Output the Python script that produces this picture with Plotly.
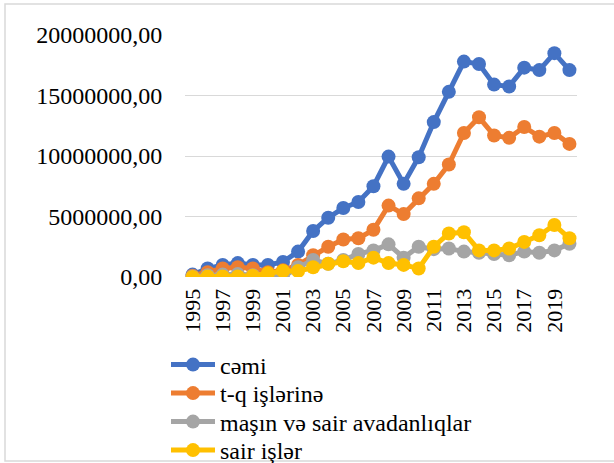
import plotly.graph_objects as go

years = list(range(1995, 2021))
cemi = [0.2, 0.7, 1.0, 1.15, 1.0, 1.0, 1.25, 2.1, 3.8, 4.9, 5.7, 6.2, 7.5, 9.95, 7.7, 9.9,
        12.8, 15.3, 17.8, 17.6, 15.9, 15.75, 17.3, 17.1, 18.5, 17.1]
tq = [0.1, 0.4, 0.7, 0.8, 0.7, 0.4, 0.55, 1.0, 1.8, 2.5, 3.1, 3.2, 3.9, 5.9, 5.2, 6.5,
      7.7, 9.3, 11.9, 13.2, 11.7, 11.5, 12.4, 11.6, 11.9, 11.0]
masin = [0.05, 0.15, 0.2, 0.25, 0.15, 0.1, 0.0, 0.8, 1.4, 1.1, 1.4, 1.9, 2.2, 2.7, 1.6, 2.5,
         2.3, 2.35, 2.1, 2.0, 1.9, 1.8, 2.1, 2.0, 2.2, 2.75]
sair = [0.0, 0.05, 0.05, 0.05, 0.1, 0.3, 0.5, 0.5, 0.8, 1.1, 1.3, 1.15, 1.6, 1.15, 1.0, 0.7,
        2.5, 3.6, 3.7, 2.2, 2.2, 2.35, 2.9, 3.45, 4.3, 3.2]

series = [
    ("cəmi", cemi, "#4472C4"),
    ("t-q işlərinə", tq, "#ED7D31"),
    ("maşın və sair avadanlıqlar", masin, "#A5A5A5"),
    ("sair işlər", sair, "#FFC000"),
]

fam = "Liberation Serif"
L, T, PW, PH = 185, 35, 392, 242
legend_rows = [365, 393.5, 422, 450.5]  # legend entry centres (page px)

fig = go.Figure()
layout_legends = {}
for i, (name, vals, color) in enumerate(series):
    key = "legend" if i == 0 else f"legend{i + 1}"
    fig.add_trace(go.Scatter(
        x=years, y=[v * 1e6 for v in vals], name=name, mode="lines+markers",
        line=dict(color=color, width=5), marker=dict(color=color, size=14),
        legend=key,
    ))
    layout_legends[key] = dict(
        x=(166 - L) / PW, y=(T + PH - legend_rows[i]) / PH,
        xanchor="left", yanchor="middle",
        font=dict(family=fam, size=24, color="#000"),
        itemwidth=44, bgcolor="rgba(0,0,0,0)",
    )

fig.update_layout(
    width=614, height=463,
    margin=dict(l=L, r=614 - L - PW, t=T, b=463 - T - PH, autoexpand=False),
    paper_bgcolor="white", plot_bgcolor="white",
    font=dict(family=fam, size=22, color="#000000"),
    separators=",.",
    showlegend=True,
    xaxis=dict(range=[1994.5, 2020.5], tickmode="array",
               tickvals=list(range(1995, 2021, 2)),
               ticktext=[str(y) for y in range(1995, 2021, 2)],
               tickangle=-90, showgrid=False, zeroline=False, automargin=False,
               ticks="outside", ticklen=2, tickcolor="rgba(0,0,0,0)",
               showline=False, tickfont=dict(family=fam, size=22)),
    yaxis=dict(range=[0, 20e6], tickvals=[0, 5e6, 10e6, 15e6, 20e6], automargin=False,
               tickformat=".2f", showgrid=True, gridcolor="#D9D9D9", gridwidth=1.3,
               zeroline=False, ticks="outside", ticklen=17,
               tickcolor="rgba(0,0,0,0)", tickfont=dict(family=fam, size=24)),
    shapes=[dict(type="rect", xref="paper", yref="paper",
                 x0=(5 - L) / PW, x1=(640 - L) / PW,
                 y0=(T + PH - 461) / PH, y1=(T + PH - 4) / PH,
                 line=dict(color="#D9D9D9", width=1.5), fillcolor="rgba(0,0,0,0)")],
    **layout_legends,
)

fig.write_html("out.html", config={"displayModeBar": False},
               post_script="document.body.style.margin='0';document.body.style.overflow='hidden';")
